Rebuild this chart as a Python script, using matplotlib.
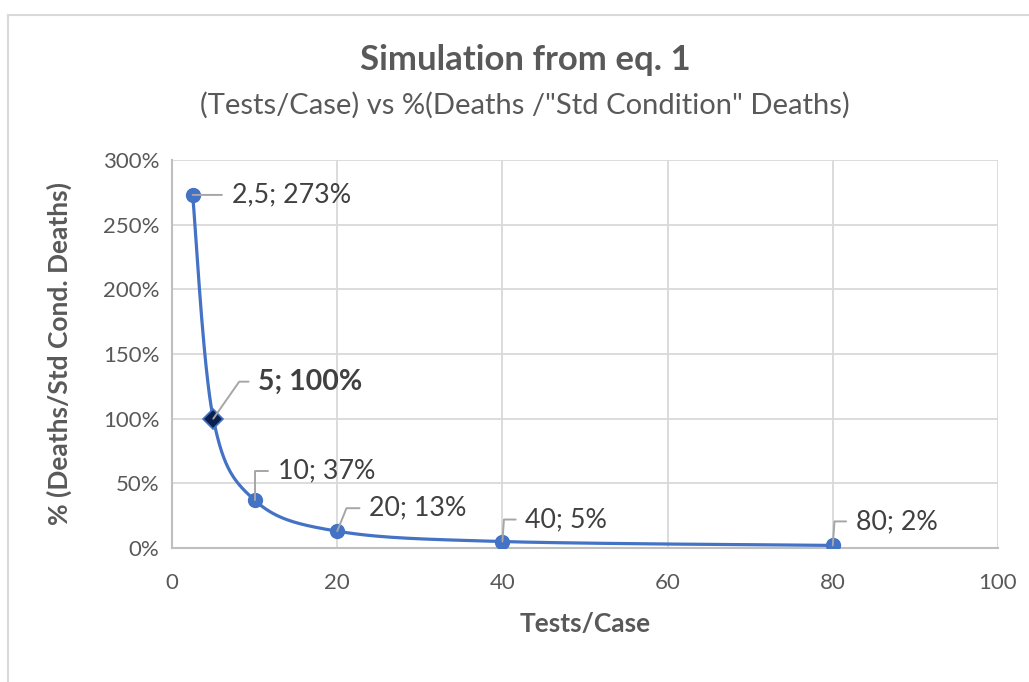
import numpy as np
import matplotlib
matplotlib.use("Agg")
import matplotlib.pyplot as plt
from matplotlib.ticker import PercentFormatter
from matplotlib.lines import Line2D

plt.rcParams['font.family'] = ['Lato', 'DejaVu Sans']

# data
tests_per_case = [2.5, 5, 10, 20, 40, 80]
death_ratio = [2.73, 1.00, 0.37, 0.13, 0.05, 0.02]
labels = ['2,5; 273%', '5; 100%', '10; 37%', '20; 13%', '40; 5%', '80; 2%']
highlight = 1  # the "standard condition" point

title = 'Simulation from eq. 1'
subtitle = '(Tests/Case) vs %(Deaths /"Std Condition" Deaths)'
xlabel = 'Tests/Case'
ylabel = '% (Deaths/Std Cond. Deaths)'

blue = '#4472C4'
grey_txt = '#595959'
dark_txt = '#404040'
grid_c = '#D9D9D9'


def smooth(xs, ys, n=40):
    # excel-like smoothed line (catmull-rom as cubic bezier)
    p = np.column_stack([xs, ys]).astype(float)
    p = np.vstack([p[0], p, p[-1]])
    out = []
    t = np.linspace(0, 1, n)[:, None]
    for i in range(1, len(p) - 2):
        p0, p1, p2, p3 = p[i - 1], p[i], p[i + 1], p[i + 2]
        c1 = p1 + (p2 - p0) / 6
        c2 = p2 - (p3 - p1) / 6
        seg = ((1 - t) ** 3) * p1 + 3 * ((1 - t) ** 2) * t * c1 + 3 * (1 - t) * t ** 2 * c2 + t ** 3 * p2
        out.append(seg)
    out = np.vstack(out)
    return out[:, 0], out[:, 1]


fig = plt.figure(figsize=(10.29, 6.82), dpi=100)
ax = fig.add_axes([172 / 1029, 1 - 548 / 682, (998 - 172) / 1029, (548 - 160) / 682])

sx, sy = smooth(tests_per_case, death_ratio)
ax.plot(sx, sy, color=blue, lw=2.3, zorder=3, solid_capstyle='round')
for i, (x, y) in enumerate(zip(tests_per_case, death_ratio)):
    if i == highlight:
        ax.plot(x, y, marker='D', ms=10, mfc='#0B1F4F', mec=blue, mew=1.2, zorder=4)
    else:
        ax.plot(x, y, marker='o', ms=10, mfc=blue, mec=blue, zorder=4)

# label offsets (pixels) and leader angle at the point
offsets = [(39, 0), (45, 37), (23, 29), (32, 23), (23, 22), (23, 24)]
angles = [None, 55, 90, 68, 86, 86]
for i, (x, y) in enumerate(zip(tests_per_case, death_ratio)):
    if angles[i] is None:
        cs = 'arc3,rad=0'
    else:
        cs = 'angle,angleA=0,angleB=%d,rad=0' % angles[i]
    ax.annotate(labels[i], xy=(x, y), xytext=offsets[i], textcoords='offset pixels',
                ha='left', va='center', fontsize=20.5 if i == highlight else 19.3,
                fontweight='bold' if i == highlight else 'normal', color=dark_txt,
                arrowprops=dict(arrowstyle='-', color='#A6A6A6', lw=1.4,
                                connectionstyle=cs, relpos=(0, 0.5),
                                shrinkA=5, shrinkB=0),
                zorder=5)

ax.set_xlim(0, 100)
ax.set_ylim(0, 3.0)
ax.set_xticks(range(0, 101, 20))
ax.set_yticks(np.arange(0, 3.01, 0.5))
ax.yaxis.set_major_formatter(PercentFormatter(1.0, decimals=0))
ax.grid(True, color=grid_c, lw=1.3)
ax.set_axisbelow(True)
for s in ['top', 'right']:
    ax.spines[s].set_visible(False)
for s in ['left', 'bottom']:
    ax.spines[s].set_color('#BFBFBF')
    ax.spines[s].set_linewidth(1.5)
ax.tick_params(length=0, labelsize=16, colors=grey_txt)
ax.tick_params(axis='y', pad=9)
ax.tick_params(axis='x', pad=18)

ax.set_xlabel(xlabel, fontsize=19, fontweight='bold', color=grey_txt, labelpad=14)
ax.set_ylabel(ylabel, fontsize=19, fontweight='bold', color=grey_txt, labelpad=22)

fig.text(525 / 1029, 1 - 60 / 682, title, ha='center', va='center', fontsize=25,
         fontweight='bold', color=grey_txt)
fig.text(525 / 1029, 1 - 105 / 682, subtitle, ha='center', va='center', fontsize=21,
         color=grey_txt)

# chart border, cropped at right and bottom
fig.add_artist(Line2D([8 / 1029, 8 / 1029], [0, 1 - 15 / 682], color=grid_c, lw=1.5))
fig.add_artist(Line2D([8 / 1029, 1], [1 - 15 / 682, 1 - 15 / 682], color=grid_c, lw=1.5))

fig.savefig('out.png', dpi=100)
